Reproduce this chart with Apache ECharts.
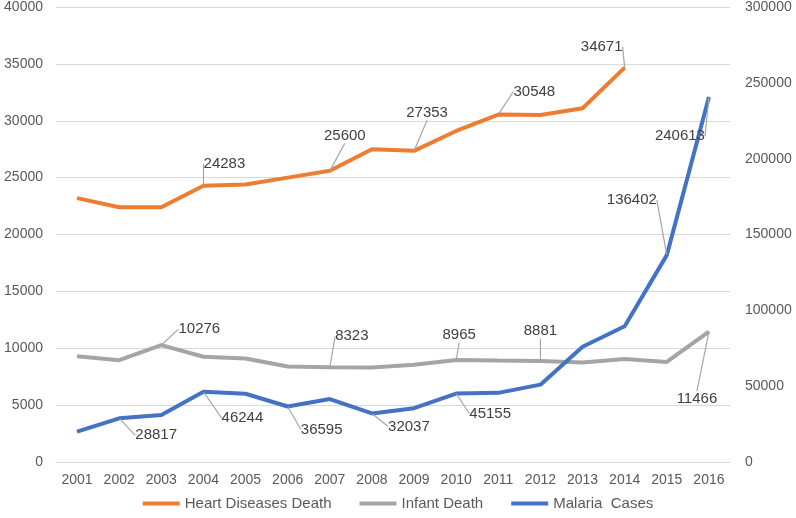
<!DOCTYPE html>
<html>
<head>
<meta charset="utf-8">
<script src="https://cdn.jsdelivr.net/npm/echarts@6/dist/echarts.min.js"></script>
<style>
html, body { margin: 0; padding: 0; background: #fff; }
#main { width: 796px; height: 518px; }
</style>
</head>
<body>
<div id="main"></div>
<script>
// data
var years = ['2001','2002','2003','2004','2005','2006','2007','2008','2009','2010','2011','2012','2013','2014','2015','2016'];
var heartDeaths = [23200, 22400, 22400, 24283, 24400, 25000, 25600, 27500, 27353, 29100, 30548, 30500, 31100, 34671, null, null];
var infantDeaths = [9300, 8950, 10276, 9250, 9100, 8400, 8323, 8300, 8550, 8965, 8920, 8881, 8750, 9050, 8800, 11466];
var malariaCases = [20000, 28817, 31000, 46244, 45000, 36595, 41500, 32037, 35500, 45155, 45600, 51000, 76000, 89500, 136402, 240613];

// which points carry a value label
var heartLabeled = [3, 6, 8, 10, 13];
var infantLabeled = [2, 6, 9, 11, 15];
var malariaLabeled = [1, 3, 5, 7, 9, 14, 15];

// label offsets from the point (dx, dy), per series
var labelShift = [
  {3: [21, -22], 6: [15, -35], 8: [13, -38], 10: [36, -23], 13: [-23, -21]},
  {2: [38, -16], 6: [22, -31], 9: [3, -25], 11: [0, -30], 15: [-12, 67]},
  {1: [37, 17], 3: [39, 26], 5: [34, 23], 7: [37, 13], 9: [34, 20], 14: [-35, -55], 15: [-29, 39]}
];

function build(values, labeled) {
  return values.map(function (v, i) {
    return {value: v, label: {show: labeled.indexOf(i) >= 0}};
  });
}

var font = 'Liberation Sans, Arial, sans-serif';
var chart = echarts.init(document.getElementById('main'));

function lineSeries(name, color, values, labeled, axisIdx) {
  return {
    name: name,
    type: 'line',
    yAxisIndex: axisIdx,
    data: build(values, labeled),
    symbol: 'circle',
    symbolSize: 1,
    showSymbol: true,
    connectNulls: false,
    lineStyle: {color: color, width: 4},
    itemStyle: {color: color},
    emphasis: {disabled: true},
    label: {
      position: 'inside',
      color: '#404040',
      fontSize: 15,
      fontFamily: font
    },
    labelLine: {show: true, lineStyle: {color: '#a6a6a6', width: 1.2}},
    labelLayout: function (p) {
      var s = labelShift[p.seriesIndex][p.dataIndex];
      return s ? {dx: s[0], dy: s[1]} : {};
    }
  };
}

var plain = function (v) { return String(v); };

chart.setOption({
  animation: false,
  textStyle: {fontFamily: font},
  grid: {left: 56, right: 66, top: 6, bottom: 56},
  legend: {
    bottom: 2,
    left: 'center',
    icon: 'rect',
    itemWidth: 37,
    itemHeight: 4,
    itemGap: 28,
    textStyle: {color: '#595959', fontSize: 15, fontFamily: font},
    data: ['Heart Diseases Death', 'Infant Death', 'Malaria  Cases']
  },
  xAxis: {
    type: 'category',
    data: years,
    boundaryGap: true,
    axisLine: {lineStyle: {color: '#d9d9d9'}},
    axisTick: {show: false},
    axisLabel: {color: '#595959', fontSize: 14, margin: 11}
  },
  yAxis: [
    {
      type: 'value',
      min: 0, max: 40000, interval: 5000,
      axisLine: {show: false},
      axisTick: {show: false},
      splitLine: {lineStyle: {color: '#d9d9d9'}},
      axisLabel: {color: '#595959', fontSize: 14, margin: 13, formatter: plain}
    },
    {
      type: 'value',
      position: 'right',
      min: 0, max: 300000, interval: 50000,
      axisLine: {show: false},
      axisTick: {show: false},
      splitLine: {show: false},
      axisLabel: {color: '#595959', fontSize: 14, margin: 15, formatter: plain}
    }
  ],
  series: [
    lineSeries('Heart Diseases Death', '#ED7D31', heartDeaths, heartLabeled, 0),
    lineSeries('Infant Death', '#A5A5A5', infantDeaths, infantLabeled, 0),
    lineSeries('Malaria  Cases', '#4472C4', malariaCases, malariaLabeled, 1)
  ]
});
</script>
</body>
</html>
